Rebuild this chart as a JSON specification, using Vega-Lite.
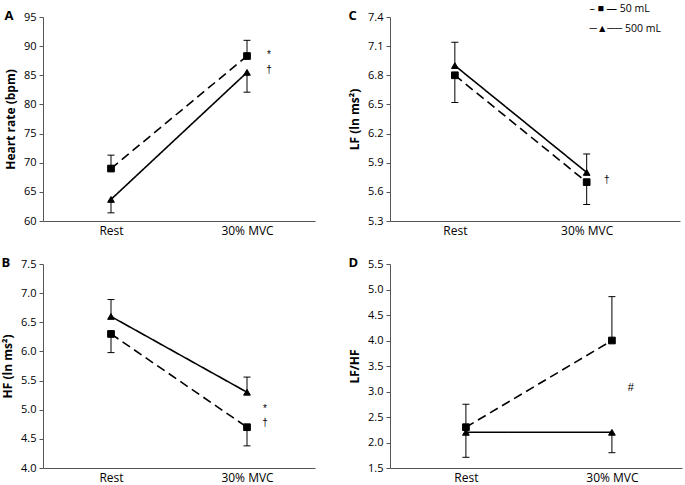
{
  "$schema": "https://vega.github.io/schema/vega-lite/v6.json",
  "padding": {"left": 1, "top": 4, "right": 3, "bottom": 0},
  "datasets": {
    "stats": [
      {"panel": "A", "time": "Rest", "volume": "50 mL", "value": 69.0, "end": 71.3},
      {"panel": "A", "time": "30% MVC", "volume": "50 mL", "value": 88.3, "end": 91.0},
      {"panel": "A", "time": "Rest", "volume": "500 mL", "value": 63.7, "end": 61.4},
      {"panel": "A", "time": "30% MVC", "volume": "500 mL", "value": 85.5, "end": 82.1},
      {"panel": "B", "time": "Rest", "volume": "50 mL", "value": 6.3, "end": 5.98},
      {"panel": "B", "time": "30% MVC", "volume": "50 mL", "value": 4.7, "end": 4.38},
      {"panel": "B", "time": "Rest", "volume": "500 mL", "value": 6.6, "end": 6.89},
      {"panel": "B", "time": "30% MVC", "volume": "500 mL", "value": 5.3, "end": 5.56},
      {"panel": "C", "time": "Rest", "volume": "50 mL", "value": 6.8, "end": 6.52},
      {"panel": "C", "time": "30% MVC", "volume": "50 mL", "value": 5.7, "end": 5.47},
      {"panel": "C", "time": "Rest", "volume": "500 mL", "value": 6.9, "end": 7.14},
      {"panel": "C", "time": "30% MVC", "volume": "500 mL", "value": 5.8, "end": 5.99},
      {"panel": "D", "time": "Rest", "volume": "50 mL", "value": 2.3, "end": 2.75},
      {"panel": "D", "time": "30% MVC", "volume": "50 mL", "value": 4.0, "end": 4.86},
      {"panel": "D", "time": "Rest", "volume": "500 mL", "value": 2.2, "end": 1.71},
      {"panel": "D", "time": "30% MVC", "volume": "500 mL", "value": 2.2, "end": 1.8}
    ],
    "notes": [
      {"panel": "A", "time": "30% MVC", "value": 88.5, "label": "*"},
      {"panel": "A", "time": "30% MVC", "value": 85.9, "label": "†"},
      {"panel": "B", "time": "30% MVC", "value": 5.01, "label": "*"},
      {"panel": "B", "time": "30% MVC", "value": 4.77, "label": "†"},
      {"panel": "C", "time": "30% MVC", "value": 5.72, "label": "†"},
      {"panel": "D", "time": "30% MVC", "value": 3.07, "label": "#"}
    ]
  },
  "config": {
    "font": "Open Sans",
    "view": {"stroke": null},
    "axis": {"grid": false, "domainColor": "#555", "tickColor": "#555", "labelColor": "#000", "titleColor": "#000", "labelFont": "Open Sans", "titleFont": "Open Sans"},
    "axisX": {"ticks": false, "labelPadding": 4, "labelFontSize": 12, "labelAngle": 0},
    "axisY": {"tickSize": 4, "labelPadding": 3, "labelFontSize": 11, "titleFontSize": 12, "titleFontWeight": "bold", "titlePadding": 6},
    "title": {"anchor": "start", "frame": "bounds", "fontSize": 13, "fontWeight": "bold", "baseline": "middle", "offset": -12, "font": "Open Sans", "color": "#000"}
  },
  "columns": 2,
  "bounds": "flush",
  "align": "each",
  "spacing": {"row": 43, "column": 75},
  "concat": [
    {
      "title": "A",
      "width": 272, "height": 204,
      "data": {"name": "stats"},
      "transform": [{"filter": "datum.panel === 'A'"}],
      "encoding": {
        "x": {"field": "time", "type": "nominal", "scale": {"type": "point", "padding": 0.5, "domain": ["Rest", "30% MVC"]}, "axis": {"title": null}},
        "y": {"field": "value", "type": "quantitative", "scale": {"domain": [60, 95], "nice": false, "zero": false}, "axis": {"values": [60, 65, 70, 75, 80, 85, 90, 95]}, "title": "Heart rate (bpm)"}
      },
      "layer": [
        {"mark": {"type": "line", "color": "#000", "strokeWidth": 1.6},
         "encoding": {"strokeDash": {"field": "volume", "type": "nominal", "scale": {"domain": ["50 mL", "500 mL"], "range": [[9, 5], [1, 0]]},
           "legend": {"orient": "none", "legendX": 536, "legendY": -13, "title": null, "direction": "vertical", "symbolSize": 0, "symbolOpacity": 0, "symbolStrokeWidth": 0, "labelOffset": 0, "labelFontSize": 10.5, "labelFont": "Open Sans", "labelColor": "#000", "rowPadding": 9, "padding": 0,
             "labelExpr": "datum.value === '50 mL' ? '–  ■  — 50 mL' : '─▲── 500 mL'"}}}},
        {"mark": {"type": "rule", "color": "#000", "strokeWidth": 1}, "encoding": {"y2": {"field": "end"}}},
        {"mark": {"type": "tick", "color": "#000", "thickness": 1, "size": 7, "opacity": 1}, "encoding": {"y": {"field": "end", "type": "quantitative", "axis": {"values": [60, 65, 70, 75, 80, 85, 90, 95]}, "title": "Heart rate (bpm)"}}},
        {"mark": {"type": "point", "filled": true, "color": "#000", "stroke": "#000", "strokeWidth": 1, "size": 45, "opacity": 1},
         "encoding": {"shape": {"field": "volume", "type": "nominal", "scale": {"domain": ["50 mL", "500 mL"], "range": ["square", "triangle-up"]}, "legend": null}}},
        {"data": {"name": "notes"}, "transform": [{"filter": "datum.panel === 'A'"}], "mark": {"type": "text", "dx": 22, "fontSize": 10, "fill": "#000", "font": "Liberation Sans"}, "encoding": {"text": {"field": "label"}}}
      ]
    },
    {
      "title": "C",
      "width": 290, "height": 204,
      "data": {"name": "stats"},
      "transform": [{"filter": "datum.panel === 'C'"}],
      "encoding": {
        "x": {"field": "time", "type": "nominal", "scale": {"type": "point", "padding": 0.6, "align": 0.41, "domain": ["Rest", "30% MVC"]}, "axis": {"title": null}},
        "y": {"field": "value", "type": "quantitative", "scale": {"domain": [5.3, 7.4], "nice": false, "zero": false}, "axis": {"values": [5.3, 5.6, 5.9, 6.2, 6.5, 6.8, 7.1, 7.4], "format": ".1f"}, "title": "LF (ln ms²)"}
      },
      "layer": [
        {"mark": {"type": "line", "color": "#000", "strokeWidth": 1.6},
         "encoding": {"strokeDash": {"field": "volume", "type": "nominal", "scale": {"domain": ["50 mL", "500 mL"], "range": [[9, 5], [1, 0]]},
           "legend": {"orient": "none", "legendX": 536, "legendY": -13, "title": null, "direction": "vertical", "symbolSize": 0, "symbolOpacity": 0, "symbolStrokeWidth": 0, "labelOffset": 0, "labelFontSize": 10.5, "labelFont": "Open Sans", "labelColor": "#000", "rowPadding": 9, "padding": 0,
             "labelExpr": "datum.value === '50 mL' ? '–  ■  — 50 mL' : '─▲── 500 mL'"}}}},
        {"mark": {"type": "rule", "color": "#000", "strokeWidth": 1}, "encoding": {"y2": {"field": "end"}}},
        {"mark": {"type": "tick", "color": "#000", "thickness": 1, "size": 7, "opacity": 1}, "encoding": {"y": {"field": "end", "type": "quantitative", "axis": {"values": [5.3, 5.6, 5.9, 6.2, 6.5, 6.8, 7.1, 7.4], "format": ".1f"}, "title": "LF (ln ms²)"}}},
        {"mark": {"type": "point", "filled": true, "color": "#000", "stroke": "#000", "strokeWidth": 1, "size": 45, "opacity": 1},
         "encoding": {"shape": {"field": "volume", "type": "nominal", "scale": {"domain": ["50 mL", "500 mL"], "range": ["square", "triangle-up"]}, "legend": null}}},
        {"data": {"name": "notes"}, "transform": [{"filter": "datum.panel === 'C'"}], "mark": {"type": "text", "dx": 20, "fontSize": 10, "fill": "#000", "font": "Liberation Sans"}, "encoding": {"text": {"field": "label"}}}
      ]
    },
    {
      "title": "B",
      "width": 272, "height": 204,
      "data": {"name": "stats"},
      "transform": [{"filter": "datum.panel === 'B'"}],
      "encoding": {
        "x": {"field": "time", "type": "nominal", "scale": {"type": "point", "padding": 0.5, "domain": ["Rest", "30% MVC"]}, "axis": {"title": null}},
        "y": {"field": "value", "type": "quantitative", "scale": {"domain": [4.0, 7.5], "nice": false, "zero": false}, "axis": {"values": [4.0, 4.5, 5.0, 5.5, 6.0, 6.5, 7.0, 7.5], "format": ".1f"}, "title": "HF (ln ms²)"}
      },
      "layer": [
        {"mark": {"type": "line", "color": "#000", "strokeWidth": 1.6},
         "encoding": {"strokeDash": {"field": "volume", "type": "nominal", "scale": {"domain": ["50 mL", "500 mL"], "range": [[9, 5], [1, 0]]},
           "legend": {"orient": "none", "legendX": 536, "legendY": -13, "title": null, "direction": "vertical", "symbolSize": 0, "symbolOpacity": 0, "symbolStrokeWidth": 0, "labelOffset": 0, "labelFontSize": 10.5, "labelFont": "Open Sans", "labelColor": "#000", "rowPadding": 9, "padding": 0,
             "labelExpr": "datum.value === '50 mL' ? '–  ■  — 50 mL' : '─▲── 500 mL'"}}}},
        {"mark": {"type": "rule", "color": "#000", "strokeWidth": 1}, "encoding": {"y2": {"field": "end"}}},
        {"mark": {"type": "tick", "color": "#000", "thickness": 1, "size": 7, "opacity": 1}, "encoding": {"y": {"field": "end", "type": "quantitative", "axis": {"values": [4.0, 4.5, 5.0, 5.5, 6.0, 6.5, 7.0, 7.5], "format": ".1f"}, "title": "HF (ln ms²)"}}},
        {"mark": {"type": "point", "filled": true, "color": "#000", "stroke": "#000", "strokeWidth": 1, "size": 45, "opacity": 1},
         "encoding": {"shape": {"field": "volume", "type": "nominal", "scale": {"domain": ["50 mL", "500 mL"], "range": ["square", "triangle-up"]}, "legend": null}}},
        {"data": {"name": "notes"}, "transform": [{"filter": "datum.panel === 'B'"}], "mark": {"type": "text", "dx": 18, "fontSize": 10, "fill": "#000", "font": "Liberation Sans"}, "encoding": {"text": {"field": "label"}}}
      ]
    },
    {
      "title": "D",
      "width": 292, "height": 204,
      "data": {"name": "stats"},
      "transform": [{"filter": "datum.panel === 'D'"}],
      "encoding": {
        "x": {"field": "time", "type": "nominal", "scale": {"type": "point", "padding": 0.5, "align": 0.52, "domain": ["Rest", "30% MVC"]}, "axis": {"title": null}},
        "y": {"field": "value", "type": "quantitative", "scale": {"domain": [1.5, 5.5], "nice": false, "zero": false}, "axis": {"values": [1.5, 2.0, 2.5, 3.0, 3.5, 4.0, 4.5, 5.0, 5.5], "format": ".1f"}, "title": "LF/HF"}
      },
      "layer": [
        {"mark": {"type": "line", "color": "#000", "strokeWidth": 1.6},
         "encoding": {"strokeDash": {"field": "volume", "type": "nominal", "scale": {"domain": ["50 mL", "500 mL"], "range": [[9, 5], [1, 0]]},
           "legend": {"orient": "none", "legendX": 536, "legendY": -13, "title": null, "direction": "vertical", "symbolSize": 0, "symbolOpacity": 0, "symbolStrokeWidth": 0, "labelOffset": 0, "labelFontSize": 10.5, "labelFont": "Open Sans", "labelColor": "#000", "rowPadding": 9, "padding": 0,
             "labelExpr": "datum.value === '50 mL' ? '–  ■  — 50 mL' : '─▲── 500 mL'"}}}},
        {"mark": {"type": "rule", "color": "#000", "strokeWidth": 1}, "encoding": {"y2": {"field": "end"}}},
        {"mark": {"type": "tick", "color": "#000", "thickness": 1, "size": 7, "opacity": 1}, "encoding": {"y": {"field": "end", "type": "quantitative", "axis": {"values": [1.5, 2.0, 2.5, 3.0, 3.5, 4.0, 4.5, 5.0, 5.5], "format": ".1f"}, "title": "LF/HF"}}},
        {"mark": {"type": "point", "filled": true, "color": "#000", "stroke": "#000", "strokeWidth": 1, "size": 45, "opacity": 1},
         "encoding": {"shape": {"field": "volume", "type": "nominal", "scale": {"domain": ["50 mL", "500 mL"], "range": ["square", "triangle-up"]}, "legend": null}}},
        {"data": {"name": "notes"}, "transform": [{"filter": "datum.panel === 'D'"}], "mark": {"type": "text", "dx": 19, "fontSize": 11, "fill": "#000", "font": "Liberation Sans"}, "encoding": {"text": {"field": "label"}}}
      ]
    }
  ]
}
